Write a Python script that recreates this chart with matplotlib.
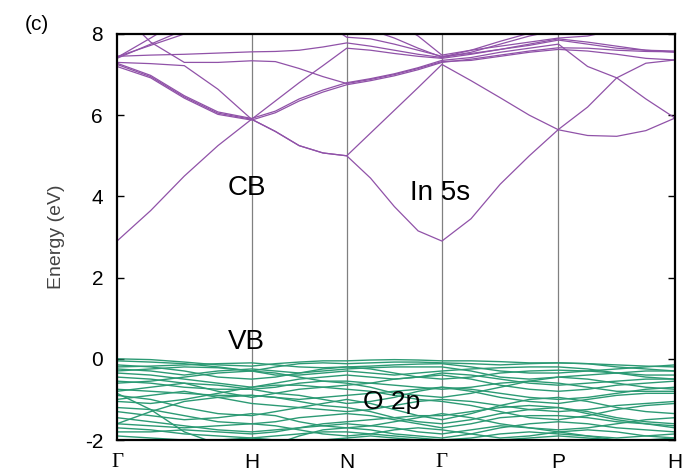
import numpy as np
import matplotlib
matplotlib.use("Agg")
import matplotlib.pyplot as plt

# high symmetry path of the bcc zone: G-H-N-G-P-H
kpoint_labels = ["\u0393", "H", "N", "\u0393", "P", "H"]
segment_lengths = [1.0, 0.7071, 0.7071, 0.866, 0.866]
points_per_segment = 4  # energies below are read at t = 0, 1/4, 1/2, 3/4, 1 of each segment

# conduction bands (eV), 21 values each
cb_bands = [
    [2.90, 3.65, 4.50, 5.25, 5.90, 5.60, 5.25, 5.07, 5.00, 4.45, 3.75, 3.15, 2.90, 3.45, 4.30, 5.00, 5.65, 6.20, 6.92, 7.28, 7.36],
    [7.25, 6.95, 6.45, 6.05, 5.90, 5.60, 5.25, 5.07, 5.00, 5.56, 6.12, 6.68, 7.25, 6.85, 6.43, 6.00, 5.64, 5.50, 5.48, 5.62, 5.93],
    [7.20, 6.92, 6.42, 6.02, 5.88, 6.06, 6.35, 6.57, 6.75, 6.85, 6.97, 7.12, 7.30, 7.38, 7.48, 7.58, 7.66, 7.65, 7.60, 7.57, 7.56],
    [7.28, 6.98, 6.48, 6.08, 5.92, 6.10, 6.40, 6.62, 6.80, 6.90, 7.02, 7.17, 7.35, 7.42, 7.55, 7.65, 7.75, 7.20, 6.92, 6.40, 5.93],
    [7.30, 7.27, 7.22, 6.64, 5.90, 6.35, 6.80, 7.22, 7.65, 7.60, 7.52, 7.45, 7.40, 7.50, 7.62, 7.75, 7.88, 7.80, 7.70, 7.60, 7.55],
    [8.60, 7.80, 7.30, 7.30, 7.34, 7.32, 7.15, 6.95, 6.78, 6.88, 7.00, 7.15, 7.32, 7.35, 7.45, 7.55, 7.62, 7.58, 7.50, 7.40, 7.36],
    [7.45, 7.48, 7.50, 7.53, 7.56, 7.57, 7.60, 7.68, 7.78, 7.70, 7.60, 7.50, 7.42, 7.55, 7.75, 7.95, 8.10, 8.20, 8.30, 8.30, 8.30],
    [7.44, 7.72, 8.00, 8.30, 8.50, 8.50, 8.60, 8.70, 8.80, 8.60, 8.30, 7.95, 7.48, 7.60, 7.70, 7.80, 7.90, 7.95, 8.10, 8.30, 8.40],
    [7.40, 7.75, 8.10, 8.50, 8.70, 8.60, 8.30, 8.05, 8.00, 8.10, 7.90, 7.65, 7.43, 7.60, 7.82, 8.02, 8.10, 8.00, 8.20, 8.40, 8.50],
    [7.42, 7.90, 8.40, 8.60, 8.80, 8.80, 8.60, 8.30, 7.92, 7.88, 7.75, 7.60, 7.45, 7.52, 7.62, 7.72, 7.85, 7.75, 7.65, 7.60, 7.58],
]

# valence bands (eV), O 2p manifold inside the window
vb_bands = [
    [0.00, -0.02, -0.08, -0.15, -0.18, -0.12, -0.08, -0.05, -0.05, -0.03, -0.02, -0.03, -0.05, -0.05, -0.07, -0.10, -0.10, -0.12, -0.15, -0.18, -0.20],
    [-0.05, -0.08, -0.12, -0.20, -0.30, -0.20, -0.12, -0.10, -0.12, -0.10, -0.08, -0.08, -0.10, -0.12, -0.15, -0.12, -0.10, -0.12, -0.20, -0.25, -0.30],
    [-0.20, -0.18, -0.15, -0.12, -0.10, -0.15, -0.20, -0.22, -0.20, -0.18, -0.15, -0.13, -0.12, -0.20, -0.30, -0.35, -0.35, -0.30, -0.25, -0.20, -0.15],
    [-0.25, -0.30, -0.40, -0.30, -0.25, -0.30, -0.35, -0.30, -0.25, -0.22, -0.20, -0.20, -0.20, -0.30, -0.45, -0.50, -0.45, -0.40, -0.35, -0.30, -0.30],
    [-0.30, -0.25, -0.20, -0.22, -0.30, -0.40, -0.40, -0.35, -0.30, -0.35, -0.40, -0.35, -0.30, -0.25, -0.22, -0.20, -0.20, -0.25, -0.35, -0.45, -0.50],
    [-0.15, -0.20, -0.30, -0.45, -0.50, -0.45, -0.35, -0.25, -0.20, -0.25, -0.35, -0.45, -0.50, -0.45, -0.35, -0.30, -0.28, -0.30, -0.35, -0.40, -0.40],
    [-0.35, -0.40, -0.50, -0.60, -0.70, -0.60, -0.50, -0.45, -0.40, -0.45, -0.50, -0.45, -0.35, -0.40, -0.50, -0.60, -0.65, -0.60, -0.55, -0.50, -0.50],
    [-0.45, -0.50, -0.60, -0.80, -0.95, -0.85, -0.75, -0.70, -0.65, -0.60, -0.50, -0.45, -0.40, -0.50, -0.65, -0.75, -0.80, -0.75, -0.65, -0.60, -0.55],
    [-0.55, -0.60, -0.70, -0.75, -0.75, -0.70, -0.60, -0.55, -0.55, -0.60, -0.65, -0.70, -0.75, -0.70, -0.60, -0.55, -0.60, -0.70, -0.80, -0.80, -0.80],
    [-0.60, -0.55, -0.45, -0.35, -0.30, -0.35, -0.45, -0.55, -0.60, -0.70, -0.85, -0.90, -0.95, -0.85, -0.70, -0.55, -0.45, -0.50, -0.60, -0.70, -0.75],
    [-0.75, -0.80, -0.85, -0.90, -0.90, -0.95, -1.00, -0.95, -0.90, -0.85, -0.80, -0.75, -0.70, -0.80, -0.95, -1.05, -1.10, -1.00, -0.90, -0.85, -0.85],
    [-0.80, -0.70, -0.60, -0.65, -0.75, -0.85, -0.90, -1.00, -1.10, -1.05, -0.95, -0.80, -0.70, -0.75, -0.85, -0.95, -1.00, -0.95, -0.85, -0.75, -0.70],
    [-1.05, -1.10, -1.00, -0.85, -0.70, -0.65, -0.65, -0.70, -0.75, -0.80, -0.90, -1.00, -1.05, -1.15, -1.30, -1.45, -1.50, -1.40, -1.25, -1.15, -1.10],
    [-0.90, -1.00, -1.20, -1.35, -1.40, -1.30, -1.20, -1.10, -1.00, -1.10, -1.25, -1.40, -1.50, -1.35, -1.15, -1.00, -0.95, -1.05, -1.20, -1.30, -1.35],
    [-1.00, -0.90, -0.80, -0.95, -1.10, -1.15, -1.20, -1.25, -1.30, -1.25, -1.15, -1.05, -1.00, -1.05, -1.15, -1.25, -1.30, -1.25, -1.15, -1.10, -1.05],
    [-0.85, -1.25, -1.80, -2.10, -2.20, -2.10, -1.90, -1.75, -1.70, -1.75, -1.85, -1.90, -1.95, -1.85, -1.70, -1.60, -1.55, -1.60, -1.70, -1.75, -1.80],
    [-1.60, -1.30, -1.05, -0.95, -0.90, -0.95, -1.05, -1.15, -1.20, -1.30, -1.45, -1.55, -1.60, -1.50, -1.35, -1.25, -1.20, -1.30, -1.45, -1.55, -1.60],
    [-1.20, -1.25, -1.40, -1.55, -1.60, -1.55, -1.45, -1.40, -1.35, -1.40, -1.50, -1.60, -1.70, -1.60, -1.45, -1.40, -1.40, -1.45, -1.55, -1.60, -1.65],
    [-1.30, -1.40, -1.50, -1.45, -1.35, -1.40, -1.55, -1.65, -1.70, -1.65, -1.55, -1.45, -1.35, -1.45, -1.60, -1.70, -1.75, -1.70, -1.60, -1.50, -1.45],
    [-1.45, -1.55, -1.65, -1.75, -1.80, -1.75, -1.70, -1.60, -1.55, -1.50, -1.45, -1.40, -1.40, -1.30, -1.20, -1.15, -1.20, -1.35, -1.50, -1.60, -1.70],
    [-1.60, -1.65, -1.70, -1.65, -1.60, -1.65, -1.75, -1.85, -1.90, -1.85, -1.75, -1.70, -1.75, -1.85, -1.95, -1.90, -1.80, -1.75, -1.80, -1.90, -1.95],
    [-1.70, -1.75, -1.85, -1.90, -1.95, -1.90, -1.85, -1.80, -1.80, -1.85, -1.90, -1.95, -2.00, -1.95, -1.85, -1.80, -1.85, -1.90, -1.95, -1.90, -1.85],
    [-1.80, -1.80, -1.75, -1.80, -1.85, -1.80, -1.70, -1.65, -1.60, -1.65, -1.70, -1.80, -1.85, -1.75, -1.65, -1.70, -1.80, -1.90, -2.00, -2.05, -2.10],
    [-1.90, -1.95, -2.00, -2.00, -1.95, -2.00, -2.05, -2.00, -1.95, -1.90, -1.95, -2.00, -2.05, -2.05, -2.00, -1.95, -1.90, -1.95, -2.00, -2.00, -1.95],
]

cb_color = "#9052A8"
vb_color = "#2C9A74"

# k coordinates along the path
kpos = np.concatenate([[0.0], np.cumsum(segment_lengths)])
kx = [0.0]
for i in range(len(segment_lengths)):
    seg = np.linspace(kpos[i], kpos[i + 1], points_per_segment + 1)[1:]
    kx.extend(seg)
kx = np.array(kx)

plt.rcParams["font.family"] = ["Liberation Sans", "DejaVu Sans"]

fig = plt.figure(figsize=(6.83, 4.74), dpi=100)
ax = fig.add_axes([0.1713, 0.0717, 0.817, 0.8566])

for k in kpos[1:-1]:
    ax.axvline(k, color="#808080", lw=0.9, zorder=1)

for band in vb_bands:
    ax.plot(kx, band, color=vb_color, lw=1.0, zorder=2)
for band in cb_bands:
    ax.plot(kx, band, color=cb_color, lw=0.9, zorder=2)

ax.set_xlim(kpos[0], kpos[-1])
ax.set_ylim(-2, 8)
ax.set_yticks([-2, 0, 2, 4, 6, 8])
ax.set_yticklabels(["-2", "0", "2", "4", "6", "8"])
ax.set_xticks(kpos)
ax.set_xticklabels(kpoint_labels)
for lab in ax.get_xticklabels():
    if lab.get_text() == "\u0393":
        lab.set_fontfamily(["Liberation Serif", "DejaVu Serif"])
        lab.set_fontsize(16)
ax.tick_params(axis="y", direction="in", length=5, width=1, right=True, labelsize=15, pad=10)
ax.tick_params(axis="x", length=0, labelsize=15, pad=9)

for s in ax.spines.values():
    s.set_linewidth(1.6)

ax.set_ylabel("Energy (eV)", fontsize=14, color="#444444")
ax.yaxis.set_label_coords(-0.093, 0.5)

ax.text(0.963, 4.21, "CB", fontsize=20, ha="center", va="center")
ax.text(0.963, 0.42, "VB", fontsize=20, ha="center", va="center")
ax.text(2.40, 4.09, "In 5s", fontsize=20, ha="center", va="center")
ax.text(2.04, -1.06, "O 2p", fontsize=19, ha="center", va="center")
fig.text(37 / 683, 1 - 25 / 474, "(c)", fontsize=15, ha="center", va="center")

fig.savefig("out.png", dpi=100)
